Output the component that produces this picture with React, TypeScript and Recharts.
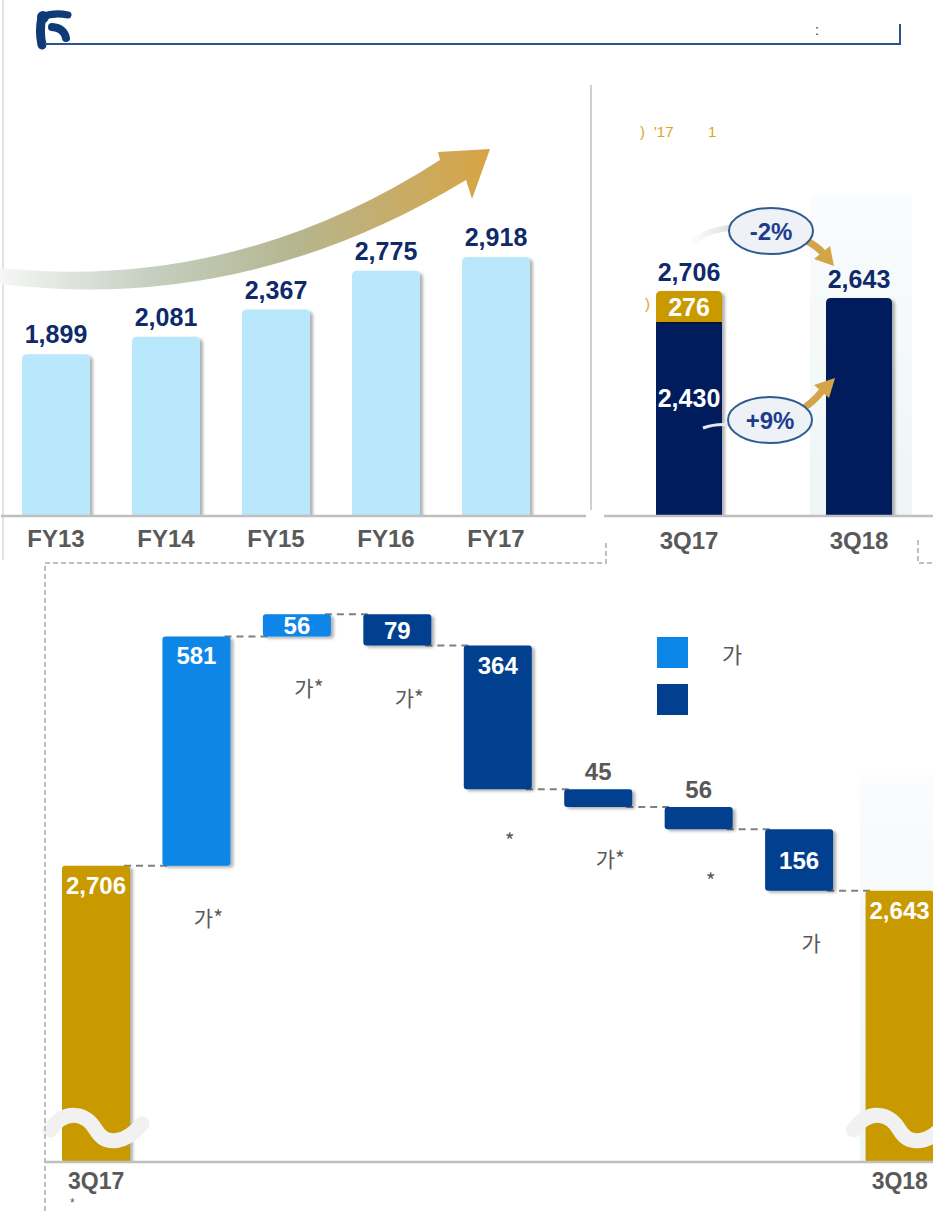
import React from "react";
import { BarChart, Bar, XAxis, YAxis, LabelList, Legend } from "recharts";

const FONT = "'Liberation Sans', Arial, sans-serif";
const KR = "'Noto Sans CJK KR', 'Noto Sans', sans-serif";

const LIGHT = "#B9E7FB";
const NAVY = "#031F5C";
const GOLD = "#C99A02";
const INC = "#0986E8";
const DEC = "#023F8E";
const VALUE_NAVY = "#0E2A6B";
const GREY_TEXT = "#595959";
const AXIS = "#BFBFBF";

// annual totals
const years = ["FY13", "FY14", "FY15", "FY16", "FY17"];
const yearValues = [1899, 2081, 2367, 2775, 2918];

// quarter comparison
const quarters = ["3Q17", "3Q18"];
const coreValues = [2430, 2643];
const extraValues = [276, 0];

// bridge 3Q17 -> 3Q18
const stepNames = ["3Q17", "s1", "s2", "s3", "s4", "s5", "s6", "s7", "3Q18"];
const stepKinds = ["total", "inc", "inc", "dec", "dec", "dec", "dec", "dec", "total"];
const stepValues = [2706, 581, 56, 79, 364, 45, 56, 156, 2643];
const stepNotes = ["", "가*", "가*", "가*", "*", "가*", "*", "가", ""];
const stepTicks = ["3Q17", "", "", "", "", "", "", "", "3Q18"];
const legendItems = [
  { label: "가", color: INC },
  { label: "", color: DEC },
];

const fmt = (v: number) => v.toLocaleString("en-US");

const yearData = years.map((year, i) => ({ year, value: yearValues[i] }));
const quarterData = quarters.map((q, i) => ({ q, core: coreValues[i], extra: extraValues[i] }));

let level = 0;
const waterfall = stepNames.map((name, i) => {
  const kind = stepKinds[i];
  const v = stepValues[i];
  let span: number | [number, number];
  if (kind === "total") {
    span = v;
    level = v;
  } else if (kind === "inc") {
    span = [level, level + v];
    level += v;
  } else {
    span = [level - v, level];
    level -= v;
  }
  return { name, kind, span, value: v, note: stepNotes[i] };
});

const KIND_COLOR: Record<string, string> = { total: GOLD, inc: INC, dec: DEC };

// waterfall layout
const WF_W = 950;
const WF_LEFT = 45;
const WF_PAD = 1;
const WF_BAR = 68;
const WF_BAND = (WF_W - WF_LEFT - WF_PAD) / stepNames.length;
const WF_GAP = WF_BAND - WF_BAR;

function topRounded(x: number, y: number, w: number, h: number, r: number) {
  const rr = Math.max(0, Math.min(r, h / 2, w / 2));
  return `M${x},${y + h} L${x},${y + rr} Q${x},${y} ${x + rr},${y} L${x + w - rr},${y} Q${x + w},${y} ${x + w},${y + rr} L${x + w},${y + h} Z`;
}

const shadowDef = (id: string) => (
  <defs>
    <filter id={id} x="-20%" y="-20%" width="150%" height="150%">
      <feDropShadow dx="3" dy="2" stdDeviation="1.6" floodColor="#000" floodOpacity="0.3" />
    </filter>
  </defs>
);

const makeTick = (dy: number, labels?: string[], size = 24) => (p: any) => (
  <text
    x={p.x}
    y={p.y + dy}
    textAnchor="middle"
    fill={GREY_TEXT}
    fontSize={size}
    fontWeight="bold"
    fontFamily={FONT}
  >
    {labels ? labels[p.index] : p.payload.value}
  </text>
);

const LightBar = (p: any) => (
  <path d={topRounded(p.x, p.y, p.width, p.height, 5)} fill={LIGHT} filter="url(#shA)" />
);

const CoreShape = (p: any) => {
  const i = p.index;
  const solo = extraValues[i] === 0;
  const cx = p.x + p.width / 2;
  return (
    <g>
      <path d={topRounded(p.x, p.y, p.width, p.height, solo ? 5 : 0)} fill={NAVY} filter="url(#shB)" />
      {solo ? (
        <text x={cx} y={p.y - 10} textAnchor="middle" fill={VALUE_NAVY} fontSize={25} fontWeight="bold" fontFamily={FONT}>
          {fmt(coreValues[i] + extraValues[i])}
        </text>
      ) : (
        <text x={cx} y={p.y + 85} textAnchor="middle" fill="#fff" fontSize={25} fontWeight="bold" fontFamily={FONT}>
          {fmt(coreValues[i])}
        </text>
      )}
    </g>
  );
};

const ExtraShape = (p: any) => {
  if (!p.height || p.height <= 0) return <g />;
  const i = p.index;
  const cx = p.x + p.width / 2;
  return (
    <g>
      <path d={topRounded(p.x, p.y, p.width, p.height, 5)} fill={GOLD} filter="url(#shB)" />
      <text x={cx} y={p.y + p.height / 2 + 9} textAnchor="middle" fill="#fff" fontSize={25} fontWeight="bold" fontFamily={FONT}>
        {fmt(extraValues[i])}
      </text>
      <text x={cx} y={p.y - 10} textAnchor="middle" fill={VALUE_NAVY} fontSize={25} fontWeight="bold" fontFamily={FONT}>
        {fmt(coreValues[i] + extraValues[i])}
      </text>
    </g>
  );
};

const StepShape = (p: any) => {
  const i = p.index;
  const d = waterfall[i];
  const { x, y, width: w, height: h } = p;
  const cx = x + w / 2;
  const endY = d.kind === "dec" ? y + h : y;
  const last = i === waterfall.length - 1;
  const above = d.kind === "dec" && h < 24;
  const labelY = above ? y - 9 : h < 70 ? y + h / 2 + 9 : y + 28;
  const yc = y + h - 34;
  return (
    <g>
      {!last && (
        <line x1={x + w - 6} x2={x + w + WF_GAP + 6} y1={endY} y2={endY} stroke="#808080" strokeWidth={2} strokeDasharray="7 5" />
      )}
      <rect x={x} y={y} width={w} height={h} rx={3} fill={KIND_COLOR[d.kind]} filter="url(#shC)" />
      {d.kind === "total" && (
        <path
          d={`M${x - 12},${yc + 2} C${x + 4},${yc - 20} ${x + 24},${yc - 15} ${x + w / 2},${yc + 2} C${x + w - 24},${yc + 19} ${x + w - 4},${yc + 15} ${x + w + 12},${yc - 4}`}
          stroke="#F1F1F1"
          strokeWidth={15}
          fill="none"
          strokeLinecap="round"
        />
      )}
      <text
        x={cx}
        y={labelY}
        textAnchor="middle"
        fill={above ? "#595959" : "#fff"}
        fontSize={24}
        fontWeight="bold"
        fontFamily={FONT}
      >
        {fmt(d.value)}
      </text>
      {d.note && (
        <text x={cx + 12} y={y + h + 60} textAnchor="middle" fill={GREY_TEXT} fontSize={21} fontFamily={KR}>
          {d.note}
        </text>
      )}
    </g>
  );
};

const WfLegend = () => (
  <div>
    {legendItems.map((it, i) => (
      <div key={i} style={{ display: "flex", alignItems: "center", height: 31, marginBottom: 16 }}>
        <span style={{ display: "inline-block", width: 31, height: 31, background: it.color }} />
        <span style={{ marginLeft: 34, fontSize: 22, color: GREY_TEXT, fontFamily: KR }}>{it.label}</span>
      </div>
    ))}
  </div>
);

export default function App() {
  return (
    <div
      style={{
        position: "absolute",
        left: 0,
        top: 0,
        width: 933,
        height: 1211,
        overflow: "hidden",
        background: "#fff",
        fontFamily: FONT,
      }}
    >
      <svg width={933} height={1211} style={{ position: "absolute", left: 0, top: 0 }}>
        <defs>
          <linearGradient id="bigArrow" x1="0" y1="0" x2="1" y2="0">
            <stop offset="0" stopColor="#F5F7F5" />
            <stop offset="0.3" stopColor="#C6D0C2" />
            <stop offset="0.6" stopColor="#B5B690" />
            <stop offset="1" stopColor="#D7A444" />
          </linearGradient>
          <linearGradient id="panel" x1="0" y1="0" x2="0" y2="1">
            <stop offset="0" stopColor="#FAFCFD" />
            <stop offset="1" stopColor="#EEF5F6" />
          </linearGradient>
          <linearGradient id="streak" x1="0" y1="0" x2="1" y2="0">
            <stop offset="0" stopColor="#FFFFFF" />
            <stop offset="1" stopColor="#C9D3C6" />
          </linearGradient>
        </defs>
        <line x1={3} y1={0} x2={3} y2={560} stroke="#D9D9D9" strokeWidth={1.5} />
        <line x1={591} y1={85} x2={591} y2={510} stroke="#BFBFBF" strokeWidth={1.5} />
        <rect x={810} y={195} width={102} height={321} fill="url(#panel)" />
        <rect x={860} y={775} width={73} height={387} fill="url(#panel)" />
        <path
          d="M0,268 Q235,292 440,160 L438,152 L490,149 L472,199 L466,180 Q245,314 0,284 Z"
          fill="url(#bigArrow)"
        />
      </svg>

      <div style={{ position: "absolute", left: 0, top: 134 }}>
        <BarChart width={590} height={428} data={yearData} margin={{ top: 20, right: 4, bottom: 0, left: 1 }}>
          {shadowDef("shA")}
          <XAxis
            dataKey="year"
            height={46}
            padding={{ left: 0, right: 35 }}
            axisLine={{ stroke: AXIS, strokeWidth: 2.5 }}
            tickLine={false}
            tickSize={0}
            tickMargin={0}
            interval={0}
            tick={makeTick(31)}
          />
          <YAxis hide domain={[200, 4000]} allowDataOverflow />
          <Bar dataKey="value" barSize={68} shape={LightBar} isAnimationActive={false}>
            <LabelList
              dataKey="value"
              position="top"
              offset={11}
              formatter={(v: any) => fmt(Number(v))}
              fill={VALUE_NAVY}
              fontSize={25}
              fontWeight="bold"
              fontFamily={FONT}
            />
          </Bar>
        </BarChart>
      </div>

      <div style={{ position: "absolute", left: 604, top: 182 }}>
        <BarChart width={340} height={379} data={quarterData} margin={{ top: 20, right: 0, bottom: 0, left: 0 }}>
          {shadowDef("shB")}
          <XAxis
            dataKey="q"
            height={45}
            axisLine={{ stroke: AXIS, strokeWidth: 2.5 }}
            tickLine={false}
            tickSize={0}
            tickMargin={0}
            interval={0}
            tick={makeTick(33)}
          />
          <YAxis hide domain={[700, 3500]} allowDataOverflow />
          <Bar dataKey="core" stackId="s" barSize={66} shape={CoreShape} isAnimationActive={false} />
          <Bar dataKey="extra" stackId="s" barSize={66} shape={ExtraShape} isAnimationActive={false} />
        </BarChart>
      </div>

      <div style={{ position: "absolute", left: 0, top: 560 }}>
        <BarChart width={WF_W} height={651} data={waterfall} margin={{ top: 20, right: 0, bottom: 0, left: WF_LEFT }}>
          {shadowDef("shC")}
          <XAxis
            dataKey="name"
            height={49}
            padding={{ left: WF_PAD, right: 0 }}
            axisLine={{ stroke: AXIS, strokeWidth: 2.5 }}
            tickLine={false}
            tickSize={0}
            tickMargin={0}
            interval={0}
            tick={makeTick(27, stepTicks, 23)}
          />
          <YAxis hide domain={[1956, 3430]} allowDataOverflow />
          <Legend
            layout="vertical"
            align="center"
            verticalAlign="middle"
            wrapperStyle={{ left: 657, top: 77, width: 140 }}
            content={() => <WfLegend />}
          />
          <Bar dataKey="span" barSize={WF_BAR} shape={StepShape} isAnimationActive={false} />
        </BarChart>
      </div>

      <svg width={933} height={1211} style={{ position: "absolute", left: 0, top: 0, pointerEvents: "none" }}>
        <g stroke="#0E3B78" strokeLinecap="round" fill="none">
          <path d="M42,45 C40,36 40,26 42,17" strokeWidth={9} />
          <path d="M42,17 Q54,12 68,15" strokeWidth={7} />
          <path d="M52,27 Q64,28 66,38" strokeWidth={8} />
        </g>
        <circle cx={43} cy={17} r={6} fill="#0E3B78" />
        <line x1={45} y1={44} x2={901} y2={44} stroke="#2C5492" strokeWidth={2} />
        <line x1={900} y1={24} x2={900} y2={45} stroke="#2C5492" strokeWidth={2} />
        <text x={815} y={35} fontSize={14} fill="#333" fontFamily={FONT}>:</text>

        <text x={640} y={137} fontSize={15} fill="#D9A520" fontFamily={FONT}>)</text>
        <text x={654} y={137} fontSize={15} fill="#D9A520" fontFamily={FONT}>'17</text>
        <text x={708} y={137} fontSize={15} fill="#D9A520" fontFamily={FONT}>1</text>
        <text x={645} y={309} fontSize={15} fill="#D9A520" fontFamily={FONT}>)</text>

        <path d="M690,244 Q708,228 740,227" stroke="url(#streak)" strokeWidth={6} fill="none" opacity={0.8} />
        <path d="M805,240 Q817,246 823,253" stroke="#D4A548" strokeWidth={7} fill="none" />
        <polygon points="814,259 834,266 830,246" fill="#D4A548" />
        <path d="M703,428 Q716,423 733,425" stroke="#E3E9F0" strokeWidth={3} fill="none" />
        <path d="M798,412 Q814,402 822,391" stroke="#D4A548" strokeWidth={7} fill="none" />
        <polygon points="814,385 835,378 829,398" fill="#D4A548" />

        <ellipse cx={771} cy={231} rx={42} ry={23} fill="#EEF1F5" stroke="#2E5B93" strokeWidth={2} />
        <text x={771} y={240} textAnchor="middle" fontSize={24} fontWeight="bold" fill="#1B3E8C" fontFamily={FONT}>-2%</text>
        <ellipse cx={770} cy={420} rx={42} ry={23} fill="#EEF1F5" stroke="#2E5B93" strokeWidth={2} />
        <text x={770} y={429} textAnchor="middle" fontSize={24} fontWeight="bold" fill="#1B3E8C" fontFamily={FONT}>+9%</text>

        <path d="M45,1211 V563 H606 V540" stroke={AXIS} strokeWidth={2} strokeDasharray="5 3" fill="none" />
        <path d="M918,540 V563 H933" stroke={AXIS} strokeWidth={2} strokeDasharray="5 3" fill="none" />
        <text x={70} y={1207} fontSize={12} fill={GREY_TEXT} fontFamily={FONT}>*</text>
      </svg>
    </div>
  );
}
